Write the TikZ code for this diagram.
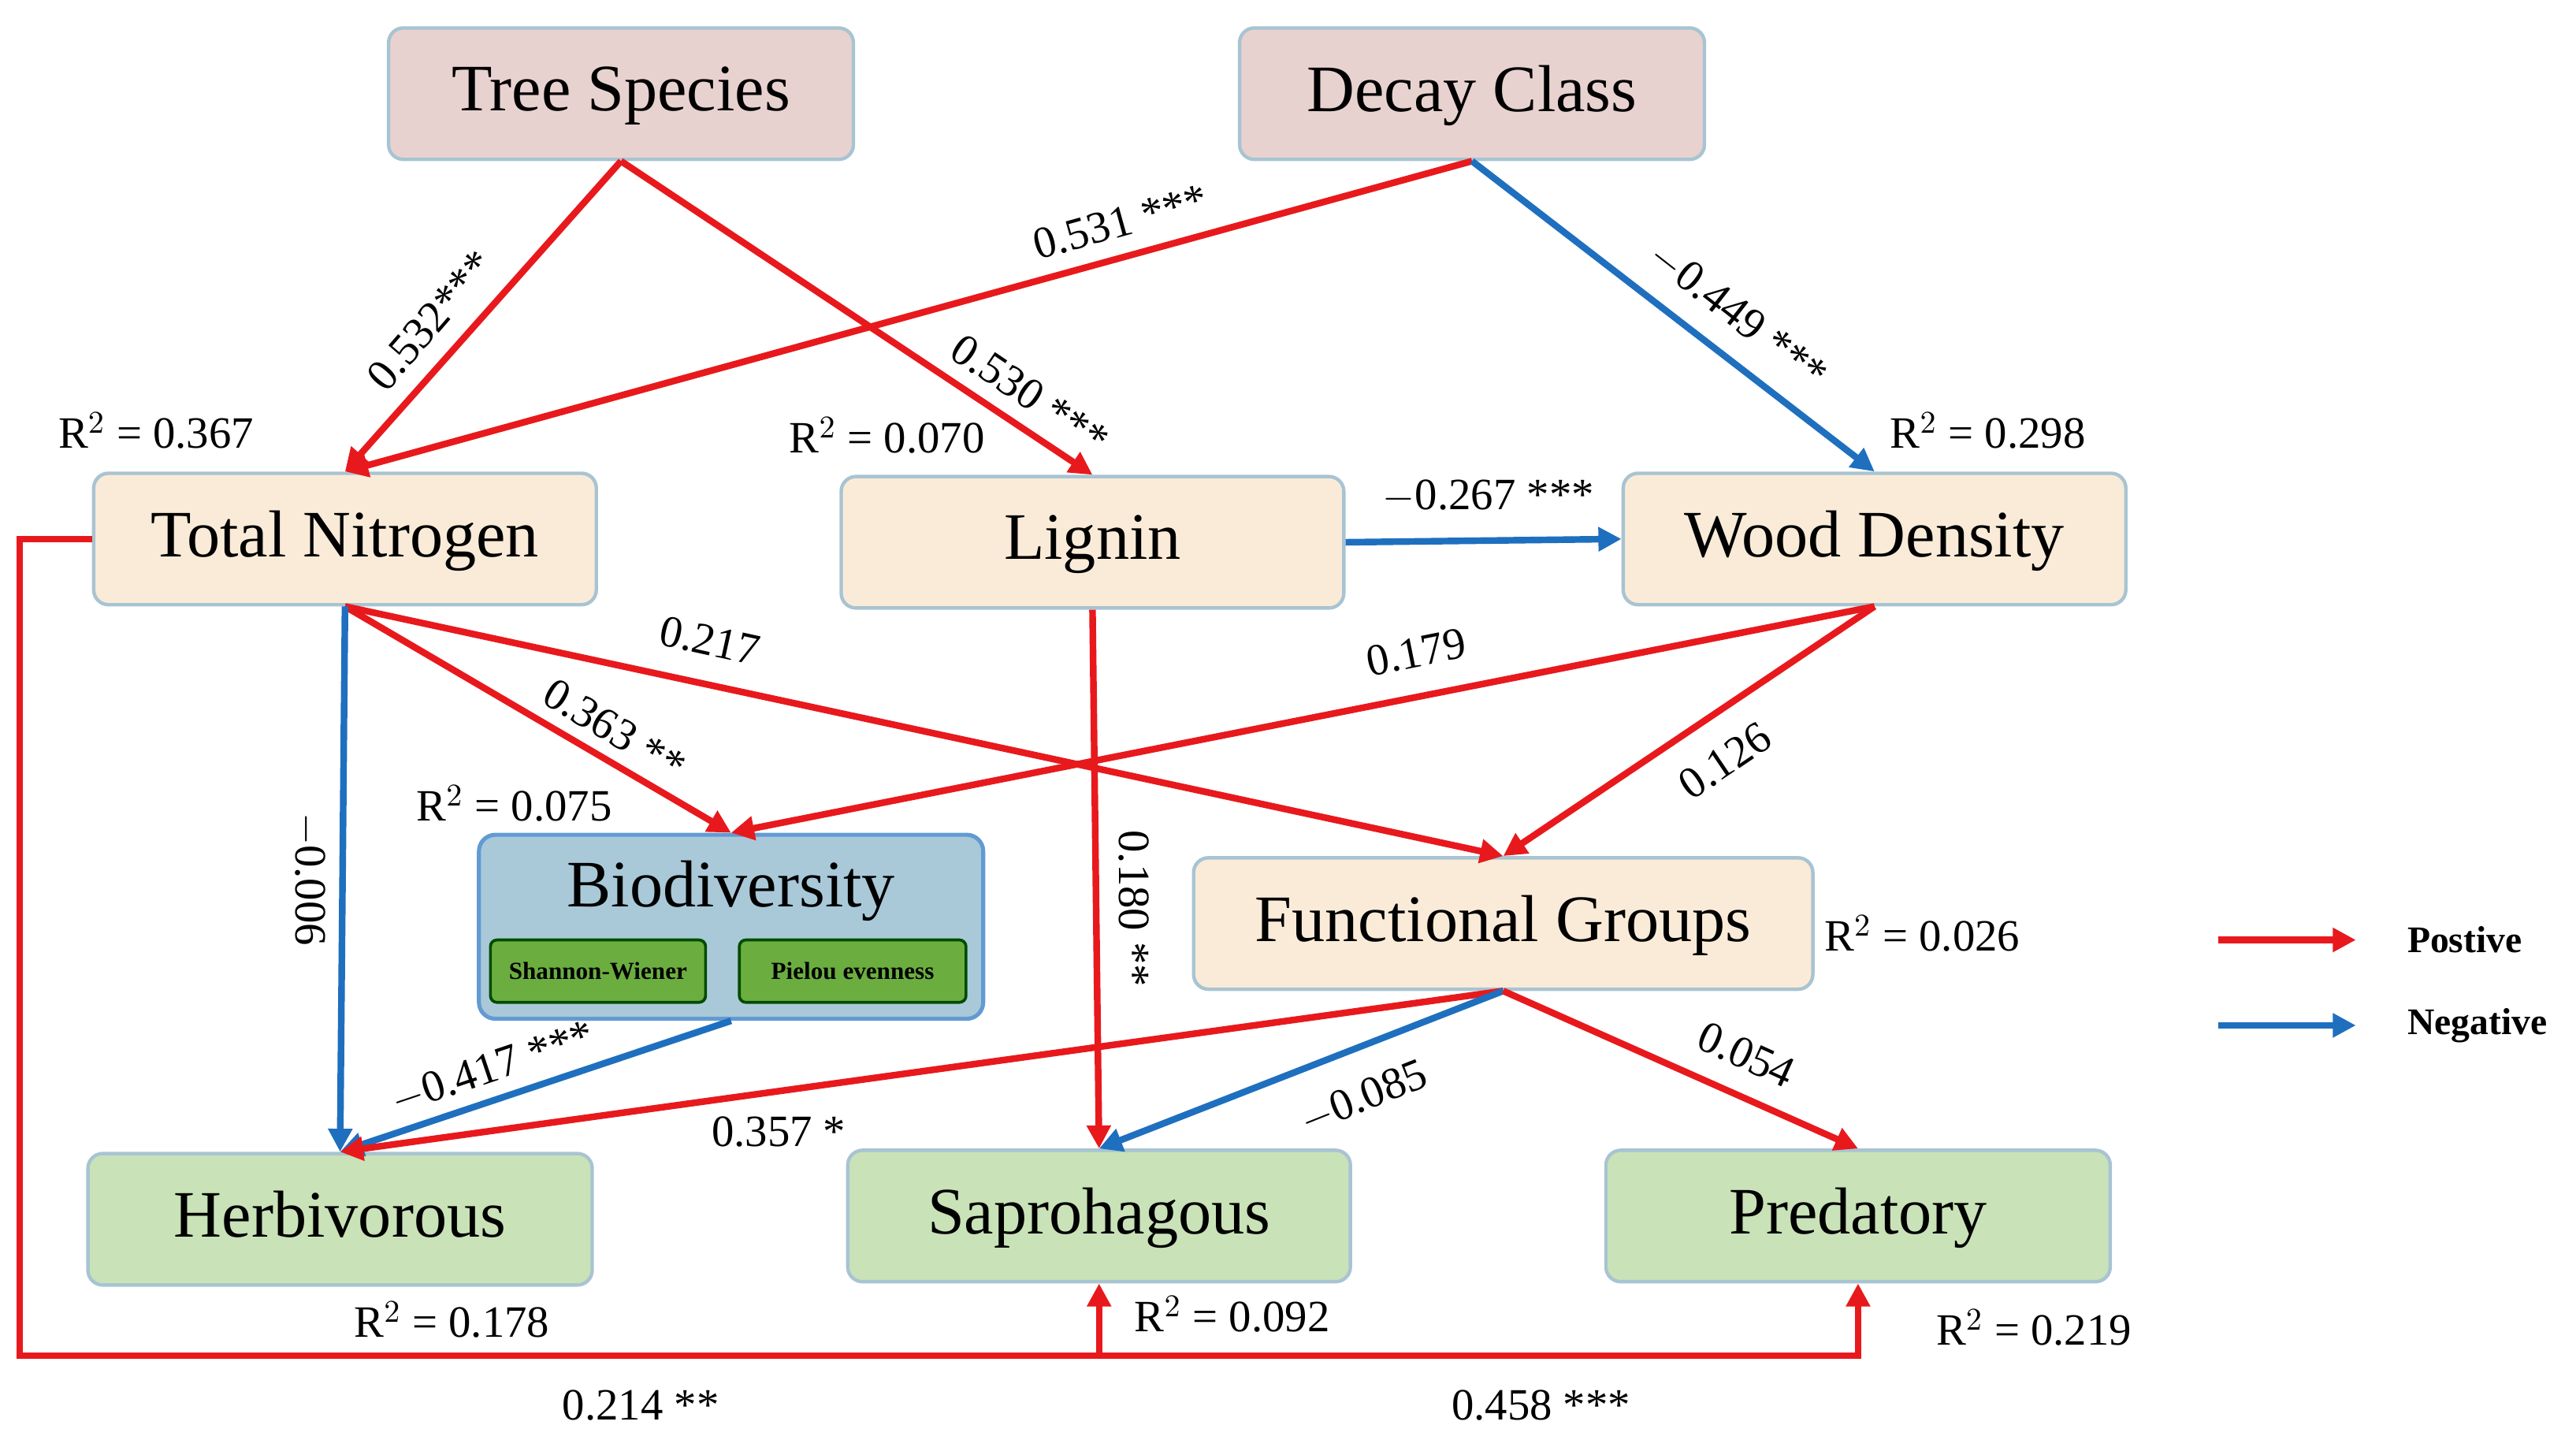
\documentclass[tikz,border=0pt]{standalone}
\usepackage{fontspec}
\setmainfont{Liberation Serif}
\usetikzlibrary{arrows.meta}
\definecolor{pr}{HTML}{E8191C}
\definecolor{nb}{HTML}{1F6FBF}
\definecolor{pinkf}{HTML}{E8D2D0}
\definecolor{beige}{HTML}{FAEBD8}
\definecolor{greenf}{HTML}{C9E2B8}
\definecolor{biof}{HTML}{A9C9D9}
\definecolor{bord}{HTML}{A8C4D2}
\definecolor{inner}{HTML}{6BAE3F}
\begin{document}
\begin{tikzpicture}[x=0.02cm,y=-0.02cm,
 box/.style={draw=bord,line width=1.2pt,rounded corners=0.18cm,minimum height=1.6cm,inner sep=0pt,text depth=0.12cm,font=\fontsize{23}{26}\selectfont},
 posa/.style={draw=pr,line width=2.3pt,-{Triangle[length=8pt,width=8pt]}},
 nega/.style={draw=nb,line width=2.3pt,-{Triangle[length=8pt,width=8pt]}},
 lab/.style={font=\fontsize{15.5}{18}\selectfont,inner sep=0pt},
 rr/.style={font=\fontsize{15.5}{18}\selectfont,inner sep=0pt},
 leg/.style={font=\bfseries\fontsize{13}{15}\selectfont,inner sep=0pt}]
\useasboundingbox (0,0) rectangle (1568,876);
% nodes
\node[box,fill=pinkf,minimum width=5.66cm] (ts) at (378,57) {Tree Species};
\node[box,fill=pinkf,minimum width=5.66cm] (dc) at (896,57) {Decay Class};
\node[box,fill=beige,minimum width=6.12cm] (tn) at (210,328) {Total Nitrogen};
\node[box,fill=beige,minimum width=6.12cm] (lg) at (665,330) {Lignin};
\node[box,fill=beige,minimum width=6.12cm] (wd) at (1141,328) {Wood Density};
\node[box,fill=beige,minimum width=7.54cm] (fg) at (915,562) {Functional Groups};
\node[box,fill=greenf,minimum width=6.14cm] (hb) at (207,742) {Herbivorous};
\node[box,fill=greenf,minimum width=6.12cm] (sp) at (669,740) {Saprohagous};
\node[box,fill=greenf,minimum width=6.14cm] (pd) at (1131,740) {Predatory};
\node[draw=nb!70,fill=biof,line width=1.4pt,rounded corners=0.2cm,minimum width=6.14cm,minimum height=2.24cm,inner sep=0pt] (bio) at (445,564) {};
\node[inner sep=0pt,font=\fontsize{23}{26}\selectfont] (biot) at (445,542) {Biodiversity};
\node[draw=black!70!green,fill=inner,line width=1pt,rounded corners=0.08cm,minimum width=2.62cm,minimum height=0.76cm,inner sep=0pt,font=\bfseries\fontsize{8.5}{10}\selectfont] (sw) at (364,591) {Shannon-Wiener};
\node[draw=black!70!green,fill=inner,line width=1pt,rounded corners=0.08cm,minimum width=2.76cm,minimum height=0.76cm,inner sep=0pt,font=\bfseries\fontsize{8.5}{10}\selectfont] (pe) at (519,591) {Pielou evenness};
% arrows
\draw[posa] (ts.south) -- (tn.north);
\draw[posa] (ts.south) -- (lg.north);
\draw[posa] (dc.south) -- (tn.north);
\draw[nega] (dc.south) -- (wd.north);
\draw[nega] (lg.east) -- (wd.west);
\draw[posa] (tn.south) -- (bio.north);
\draw[posa] (tn.south) -- (fg.north);
\draw[posa] (wd.south) -- (bio.north);
\draw[posa] (wd.south) -- (fg.north);
\draw[nega] (tn.south) -- (hb.north);
\draw[nega] (bio.south) -- (hb.north);
\draw[posa] (fg.south) -- (hb.north);
\draw[posa] (lg.south) -- (sp.north);
\draw[nega] (fg.south) -- (sp.north);
\draw[posa] (fg.south) -- (pd.north);
\coordinate (c1) at (12,825);
\draw[posa] (tn.west) -| (c1) -| (pd.south);
\draw[posa] (sp.south |- c1) -- (sp.south);
% labels
\node[lab,rotate=49] at (262,195) {0.532***};
\node[lab,rotate=-34] at (627,240) {0.530 ***};
\node[lab,rotate=15.5] at (682,135) {0.531 ***};
\node[lab,rotate=-38] at (1058,192) {$-$0.449 ***};
\node[lab] at (906,302) {$-$0.267 ***};
\node[lab,rotate=-31] at (374,444) {0.363 **};
\node[lab,rotate=-12.4] at (432,390) {0.217};
\node[lab,rotate=11.4] at (862,397) {0.179};
\node[lab,rotate=34] at (1050,463) {0.126};
\node[lab,rotate=-90] at (188,535) {$-$0.006};
\node[lab,rotate=-90] at (690,553) {0.180 **};
\node[lab,rotate=18.6] at (300,650) {$-$0.417 ***};
\node[lab] at (474,689) {0.357 *};
\node[lab,rotate=21.7] at (830,668) {$-$0.085};
\node[lab,rotate=-24.4] at (1063,642) {0.054};
\node[lab] at (390,855) {0.214 **};
\node[lab] at (938,855) {0.458 ***};
% R2
\node[rr] at (95,262) {R$^2$ = 0.367};
\node[rr] at (540,265) {R$^2$ = 0.070};
\node[rr] at (1210,262) {R$^2$ = 0.298};
\node[rr] at (313,489) {R$^2$ = 0.075};
\node[rr] at (1170,568) {R$^2$ = 0.026};
\node[rr] at (275,803) {R$^2$ = 0.178};
\node[rr] at (750,800) {R$^2$ = 0.092};
\node[rr] at (1238,808) {R$^2$ = 0.219};
% legend
\coordinate (l1a) at (1350,572); \coordinate (l1b) at (1434,572);
\coordinate (l2a) at (1350,624); \coordinate (l2b) at (1434,624);
\draw[posa] (l1a) -- (l1b);
\draw[nega] (l2a) -- (l2b);
\node[leg,anchor=west] at (1465,572) {Postive};
\node[leg,anchor=west] at (1465,624) {Negative};
\end{tikzpicture}
\end{document}
